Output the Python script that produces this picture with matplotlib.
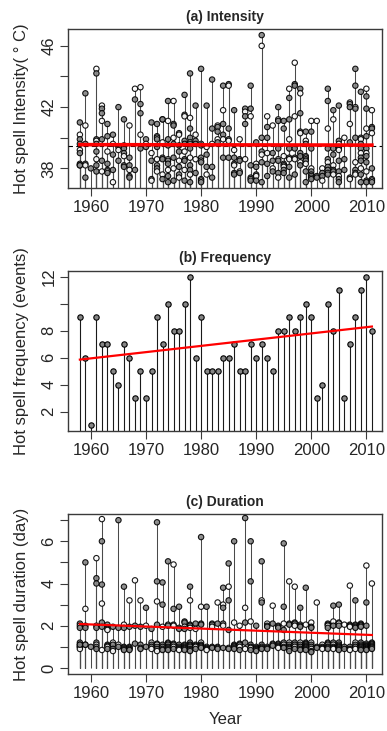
import numpy as np
import matplotlib
matplotlib.use("Agg")
import matplotlib.pyplot as plt

plt.rcParams["font.family"] = ["Liberation Sans", "DejaVu Sans"]
plt.rcParams["font.size"] = 12

# hot spell statistics, one entry per year / per event
years = np.arange(1958, 2012)
freq = [9, 6, 1, 9, 7, 7, 5, 4, 7, 6,
        3, 5, 3, 5, 9, 7, 10, 8, 8, 10,
        12, 6, 9, 5, 5, 5, 6, 6, 7, 5,
        5, 7, 6, 7, 6, 5, 8, 8, 9, 8,
        9, 10, 9, 3, 4, 10, 8, 11, 3, 7,
        9, 11, 12, 8]

# peak temperature of each event (deg C), listed year by year
intensity = [
    41.0, 40.2, 39.9, 39.6, 39.2, 39.0, 38.3, 38.2, 38.2,
    42.9, 40.8, 39.6, 38.3, 38.2, 37.4,
    38.0,
    44.5, 44.2, 39.9, 39.8, 39.6, 39.1, 38.6, 38.2, 37.8,
    42.1, 41.9, 41.6, 41.1, 39.9, 38.5, 37.8,
    40.9, 40.1, 39.1, 38.3, 37.9, 37.8, 37.7,
    40.2, 39.6, 38.9, 37.9, 37.1,
    42.0, 39.4, 39.2, 38.5,
    41.2, 39.5, 39.3, 39.0, 38.8, 38.2, 38.1,
    40.8, 38.7, 38.2, 37.9, 37.5, 37.4,
    43.2, 42.5, 37.9,
    43.3, 42.2, 41.6, 40.2, 39.3,
    39.9, 39.6, 39.4,
    41.0, 39.0, 38.5, 37.3, 37.2,
    40.9, 40.1, 40.0, 39.9, 39.4, 38.6, 38.2, 38.0, 37.8,
    41.2, 41.2, 39.7, 38.7, 38.6, 37.6, 37.3,
    42.4, 41.1, 39.9, 39.5, 38.6, 38.5, 38.3, 37.9, 37.5, 37.1,
    42.4, 40.9, 40.8, 40.0, 39.6, 38.7, 38.0, 37.2,
    40.3, 40.2, 39.5, 39.1, 38.5, 38.1, 37.6, 37.4,
    42.8, 41.5, 41.4, 39.8, 39.6, 39.1, 38.6, 38.5, 37.9, 37.2,
    44.2, 41.3, 40.6, 40.0, 39.7, 39.6, 39.3, 38.7, 38.2, 37.9, 37.6, 37.1,
    42.1, 40.2, 39.8, 39.6, 38.6, 37.7,
    44.5, 39.6, 39.5, 38.7, 38.5, 38.4, 37.3, 37.2, 37.1,
    42.1, 39.4, 38.9, 38.1, 37.6,
    43.8, 40.6, 39.6, 38.1, 37.4,
    40.8, 40.7, 40.4, 39.9, 39.7,
    43.4, 41.8, 40.9, 40.2, 39.9, 38.7,
    43.5, 43.4, 40.6, 39.9, 39.8, 38.7,
    41.8, 39.2, 38.7, 38.3, 38.2, 37.7, 37.6,
    39.9, 38.6, 38.5, 37.8, 37.7,
    41.9, 41.7, 41.4, 40.9, 38.6,
    43.4, 41.9, 41.4, 38.2, 37.4, 37.3, 37.2,
    39.7, 38.3, 38.1, 37.6, 37.5, 37.2,
    46.7, 46.0, 40.0, 39.1, 38.9, 38.4, 37.1,
    41.4, 40.7, 40.0, 39.0, 38.3, 37.5,
    40.8, 39.0, 38.5, 38.0, 37.8,
    42.0, 41.2, 41.1, 39.3, 38.6, 38.5, 37.7, 37.4,
    41.1, 40.6, 38.8, 38.3, 38.2, 38.1, 37.9, 37.7,
    43.2, 42.6, 41.2, 39.9, 39.3, 38.7, 38.6, 38.1, 37.4,
    44.9, 43.5, 43.4, 41.4, 39.3, 38.7, 38.6, 37.6,
    43.2, 42.9, 41.6, 40.4, 40.3, 39.0, 38.8, 38.4, 38.2,
    40.4, 39.8, 39.6, 38.8, 38.7, 38.6, 38.5, 38.3, 37.8, 37.1,
    41.1, 40.4, 39.3, 38.0, 37.8, 37.6, 37.5, 37.4, 37.3,
    41.1, 37.5, 37.4,
    38.0, 37.7, 37.5, 37.2,
    43.2, 42.4, 40.6, 39.3, 38.6, 38.4, 38.1, 37.9, 37.7, 37.6,
    41.8, 41.2, 39.3, 38.9, 38.2, 37.9, 37.8, 37.6,
    42.1, 39.8, 39.6, 39.4, 39.3, 39.2, 38.5, 37.8, 37.5, 37.3, 37.1,
    40.0, 38.6, 37.9,
    42.3, 42.2, 42.0, 40.9, 39.7, 37.4, 37.3,
    44.5, 43.4, 42.0, 41.9, 40.0, 38.4, 37.9, 37.7, 37.6,
    43.0, 40.0, 39.9, 39.6, 39.3, 39.0, 38.7, 38.5, 38.0, 37.6, 37.1,
    43.2, 42.7, 41.9, 40.6, 40.1, 39.3, 39.0, 38.8, 38.4, 37.8, 37.2, 37.1,
    41.8, 40.7, 40.6, 40.3, 38.0, 37.3, 37.2, 37.1,
]

# length of each event (days, jittered), listed year by year
duration = [
    2.1, 2.0, 1.9, 1.2, 1.1, 1.0, 1.0, 0.9, 1.1,
    5.0, 2.8, 2.0, 1.9, 1.1, 1.1,
    1.0,
    5.2, 4.25, 4.0, 2.0, 1.9, 1.2, 1.1, 1.0, 0.9,
    7.05, 6.0, 3.95, 3.05, 2.15, 1.95, 0.85,
    2.05, 1.85, 1.8, 1.1, 1.05, 1.0, 0.9,
    1.95, 1.2, 1.1, 0.9, 0.8,
    7.0, 1.9, 1.1, 1.0,
    3.85, 2.05, 1.9, 1.0, 0.95, 0.9, 0.85,
    3.2, 1.95, 1.0, 0.95, 0.9, 0.85,
    4.15, 2.0, 1.15,
    3.2, 1.95, 1.1, 0.95, 0.9,
    2.85, 2.0, 1.0,
    1.85, 1.2, 1.1, 1.0, 0.9,
    6.9, 4.1, 3.15, 2.05, 1.15, 1.1, 1.0, 0.9, 0.8,
    4.05, 3.0, 1.95, 1.1, 1.0, 0.9, 0.85,
    5.05, 2.05, 2.0, 1.2, 1.15, 1.1, 1.0, 0.95, 0.9, 0.85,
    4.9, 2.8, 2.05, 2.0, 1.15, 1.1, 1.0, 0.9,
    2.9, 1.9, 1.85, 1.1, 1.0, 0.95, 0.9, 0.85,
    2.2, 2.15, 1.95, 1.85, 1.1, 1.05, 1.0, 0.95, 0.9, 0.85,
    3.85, 3.2, 2.05, 2.0, 1.9, 1.2, 1.1, 1.05, 1.0, 0.9, 0.85, 0.8,
    2.1, 1.85, 1.1, 1.05, 1.0, 0.9,
    6.2, 2.9, 2.1, 2.05, 1.2, 1.1, 1.05, 1.0, 0.95,
    2.9, 1.0, 0.95, 0.9, 0.85,
    2.1, 2.05, 1.95, 1.0, 0.95,
    3.1, 2.1, 1.0, 0.95, 0.9,
    3.8, 3.0, 2.85, 2.1, 2.0, 0.95,
    4.95, 3.85, 3.2, 1.8, 0.95, 0.9,
    6.0, 2.15, 1.1, 1.05, 1.0, 0.95, 0.9,
    2.0, 1.15, 1.1, 1.0, 0.85,
    7.1, 2.85, 2.15, 1.2, 0.9,
    6.0, 4.1, 2.2, 1.1, 1.0, 0.95, 0.85,
    2.0, 1.0, 0.95, 0.9, 0.85, 0.8,
    5.05, 3.2, 3.1, 1.1, 1.0, 0.95, 0.9,
    2.1, 2.0, 1.95, 1.0, 0.95, 0.9,
    2.95, 2.1, 1.15, 1.1, 1.05,
    2.0, 1.95, 1.9, 1.15, 1.1, 1.05, 1.0, 0.95,
    5.9, 2.9, 2.1, 1.8, 1.2, 1.1, 1.0, 0.95,
    4.1, 2.1, 2.05, 1.2, 1.1, 1.0, 0.95, 0.9, 0.8,
    3.85, 2.15, 2.1, 2.0, 1.2, 1.1, 1.0, 0.9,
    2.85, 2.05, 2.0, 1.95, 1.2, 1.1, 1.0, 0.9, 0.85,
    3.8, 2.05, 1.2, 1.15, 1.1, 1.05, 1.0, 0.95, 0.9, 0.85,
    2.15, 1.95, 1.9, 1.2, 1.1, 1.0, 0.9, 0.8, 0.75,
    3.1, 1.0, 0.95,
    1.1, 1.0, 0.95, 0.9,
    2.1, 2.05, 2.0, 1.9, 1.2, 1.15, 1.1, 1.0, 0.95, 0.9,
    2.95, 2.2, 2.0, 1.2, 1.1, 1.0, 0.95, 0.9,
    3.0, 2.15, 2.1, 2.0, 1.2, 1.1, 1.05, 1.0, 0.95, 0.9, 0.85,
    2.05, 1.0, 0.9,
    3.9, 2.05, 2.0, 1.95, 1.0, 0.9, 0.85,
    3.2, 2.05, 2.0, 1.95, 1.9, 1.2, 1.1, 1.0, 0.9,
    2.1, 2.05, 2.0, 1.95, 1.2, 1.1, 1.05, 1.0, 0.95, 0.9, 0.85,
    4.85, 3.1, 2.0, 1.15, 1.1, 1.05, 1.0, 1.0, 0.95, 0.9, 0.9, 0.85,
    4.0, 1.2, 1.15, 1.1, 1.05, 1.0, 0.95, 0.9,
]

# fitted trend (start, end) and long-term mean
int_mean = 39.45
int_trend = [39.55, 39.52]
freq_trend = [5.85, 8.3]
dur_trend = [2.08, 1.56]

event_year = np.repeat(years, freq)

txt = "#262626"
box = "#3a3a3a"


def style_axes(ax, ylim, yticks, ylabels, ylabel, title):
    ax.set_xlim(1955.9, 2012.9)
    ax.set_ylim(*ylim)
    ax.set_xticks(range(1960, 2011, 10))
    ax.set_yticks(yticks)
    ax.set_yticklabels(ylabels, rotation=90, va="center")
    ax.tick_params(direction="out", length=5.5, width=0.8, colors=box,
                   labelcolor=txt, labelsize=12, pad=3)
    for sp in ax.spines.values():
        sp.set_color(box)
        sp.set_linewidth(1.0)
    ax.set_ylabel(ylabel, color=txt, fontsize=12)
    ax.yaxis.set_label_coords(-0.125, 0.5)
    ax.set_title(title, fontsize=10, fontweight="bold", color=txt, pad=6)


def event_panel(ax, values, lw_trend, trend):
    vals = np.array(values)
    # one stem per event, drawn up from zero like R's type="h"
    ax.vlines(event_year, 0, vals, colors="#4a4a4a", lw=0.75, zorder=2)
    faces = ["#858585" if i % 3 != 1 else "white" for i in range(len(vals))]
    ax.scatter(event_year, vals, s=15, facecolors=faces, edgecolors="black",
               linewidths=0.8, alpha=0.9, zorder=3)
    ax.plot([years[0], years[-1]], trend, color="red", lw=lw_trend, zorder=4)


fig = plt.figure(figsize=(3.87, 7.31), dpi=100)

# (a) intensity
ax1 = fig.add_axes([0.1765, 0.7424, 0.8115, 0.2175])
event_panel(ax1, intensity, 2.6, int_trend)
ax1.axhline(int_mean, color="black", lw=0.8, ls=(0, (4, 3)), zorder=3)
style_axes(ax1, (36.7, 47.08), [38, 40, 42, 44, 46],
           ["38", "", "42", "", "46"],
           "Hot spell Intensity( \u00b0 C)", "(a) Intensity")

# (b) frequency
ax2 = fig.add_axes([0.1765, 0.4104, 0.8115, 0.2193])
ax2.vlines(years, 0, freq, colors="#1a1a1a", lw=0.8, zorder=2)
ax2.scatter(years, freq, s=15, facecolors="#858585", edgecolors="black",
            linewidths=0.8, zorder=3)
ax2.plot([years[0], years[-1]], freq_trend, color="red", lw=1.6, zorder=4)
style_axes(ax2, (0.56, 12.44), [2, 4, 6, 8, 10, 12],
           ["2", "4", "6", "8", "", "12"],
           "Hot spell frequency (events)", "(b) Frequency")

# (c) duration
ax3 = fig.add_axes([0.1765, 0.0776, 0.8115, 0.2189])
event_panel(ax3, duration, 1.6, dur_trend)
style_axes(ax3, (-0.3, 7.28), range(0, 8),
           ["0", "", "2", "", "4", "", "6", ""],
           "Hot spell duration (day)", "(c) Duration")
ax3.set_xlabel("Year", color=txt, fontsize=12)
ax3.xaxis.set_label_coords(0.5, -0.235)

fig.savefig("out.png", dpi=100)
